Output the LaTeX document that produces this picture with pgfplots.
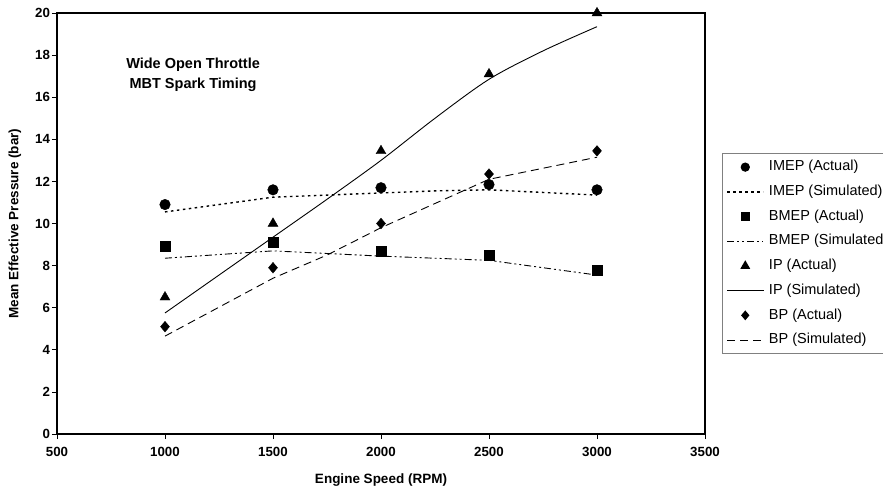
\documentclass[border=0pt]{standalone}
\usepackage{pgfplots}
\pgfplotsset{compat=1.18}
\usepackage{fontspec}
\setmainfont{Liberation Sans}
\usetikzlibrary{plotmarks}

% wide legend sample: line 36pt long, marker in the middle
\pgfplotsset{
  leg/.style={legend image code/.code={%
    \draw[mark repeat=2,mark phase=2,##1] plot coordinates {(0pt,0pt) (18pt,0pt) (36pt,0pt)};}},
}

\begin{document}
\begin{tikzpicture}
\path[use as bounding box] (-57pt,-57pt) rectangle (826pt,434pt);
\clip (-57pt,-57pt) rectangle (826pt,434pt);
\begin{axis}[
  at={(0pt,0pt)}, anchor=south west,
  width=648pt, height=421pt, scale only axis,
  xmin=500, xmax=3500, ymin=0, ymax=20,
  xtick={500,1000,...,3500}, ytick={0,2,...,20},
  xtick pos=bottom, ytick pos=left,
  tick align=outside, major tick length=5pt,
  tick style={black, line width=0.8pt},
  axis line style={line width=1.6pt},
  /pgf/number format/assume math mode=true,
  /pgf/number format/1000 sep={},
  ticklabel style={font=\fontsize{13.3}{15}\selectfont\bfseries},
  xticklabel style={yshift=-5pt},
  yticklabel style={xshift=1.5pt},
  xlabel={Engine Speed (RPM)},
  ylabel={Mean Effective Pressure (bar)},
  label style={font=\fontsize{13.5}{16}\selectfont\bfseries},
  xlabel style={at={(axis description cs:0.5,-0.1095)}, anchor=center},
  ylabel style={at={(axis description cs:-0.0648,0.5)}, anchor=center},
  clip=false,
  legend cell align=left,
  legend style={at={(axis description cs:1.0262,0.6675)}, anchor=north west,
    draw=gray, line width=1.2pt, inner xsep=4pt, inner ysep=1.2pt,
    font=\fontsize{14.5}{17}\selectfont, row sep=0pt,
    nodes={text height=11pt, text depth=3.5pt, inner ysep=5.1pt, inner xsep=5pt}},
]

% IMEP
\addplot[only marks, mark=*, mark size=5.3pt, black, leg,
  legend image post style={mark size=4pt}]
  coordinates {(1000,10.9) (1500,11.6) (2000,11.7) (2500,11.85) (3000,11.6)};
\addlegendentry{IMEP (Actual)}
\addplot[black, no marks, line width=1.4pt, dash pattern=on 2.5pt off 3.5pt, leg]
  coordinates {(1000,10.55) (1500,11.25) (2000,11.45) (2250,11.55) (2500,11.6) (3000,11.35)};
\addlegendentry{IMEP (Simulated)}

% BMEP
\addplot[only marks, mark=square*, mark size=5pt, black, leg,
  legend image post style={mark size=4pt}]
  coordinates {(1000,8.9) (1500,9.1) (2000,8.7) (2500,8.5) (3000,7.8)};
\addlegendentry{BMEP (Actual)}
\addplot[black, no marks, line width=0.9pt,
  dash pattern=on 7pt off 3pt on 2pt off 3pt on 2pt off 3pt, leg]
  coordinates {(1000,8.35) (1500,8.7) (2000,8.45) (2500,8.25) (3000,7.55)};
\addlegendentry{BMEP (Simulated)}

% IP
\addplot[only marks, mark=triangle*, mark size=5.7pt, black, leg,
  legend image post style={mark size=4.5pt}]
  coordinates {(1000,6.5) (1500,10.0) (2000,13.45) (2500,17.1) (3000,20.0)};
\addlegendentry{IP (Actual)}
\addplot[black, no marks, line width=0.9pt, smooth, leg]
  coordinates {(1000,5.75) (1250,7.55) (1500,9.35) (1750,11.15) (2000,13.0)
               (2250,15.0) (2500,16.85) (2750,18.2) (3000,19.35)};
\addlegendentry{IP (Simulated)}

% BP
\addplot[only marks, mark=diamond*, mark size=5.3pt, black, leg,
  mark options={xscale=1.13},
  legend image post style={mark size=4pt}]
  coordinates {(1000,5.1) (1500,7.9) (2000,10.0) (2500,12.35) (3000,13.45)};
\addlegendentry{BP (Actual)}
\addplot[black, no marks, line width=0.9pt, dash pattern=on 8pt off 5pt, leg]
  coordinates {(1000,4.65) (1500,7.4) (1750,8.5) (2000,9.8) (2500,12.1) (3000,13.15)};
\addlegendentry{BP (Simulated)}

\node[font=\fontsize{14.5}{20}\selectfont\bfseries, align=center]
  at (axis cs:1130,17.08) {Wide Open Throttle\\MBT Spark Timing};
\end{axis}
\end{tikzpicture}
\end{document}
